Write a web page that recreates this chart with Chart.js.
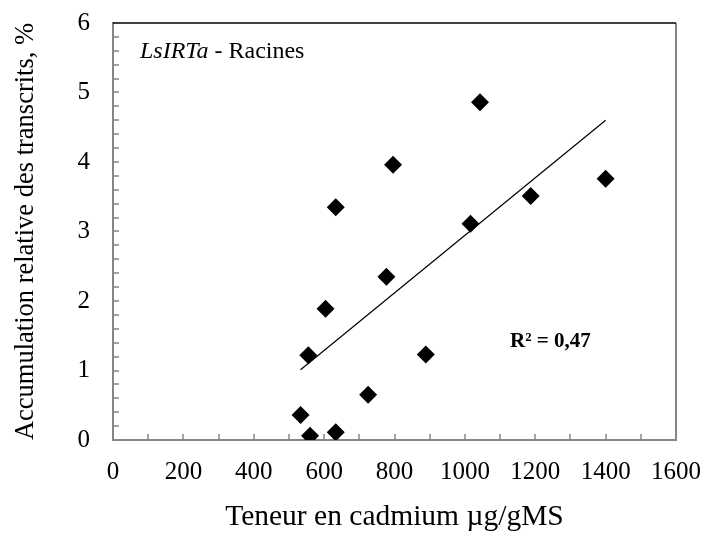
<!DOCTYPE html>
<html>
<head>
<meta charset="utf-8">
<script src="https://cdn.jsdelivr.net/npm/chart.js@4"></script>
<style>
  html, body { margin: 0; padding: 0; background: #fff; }
  canvas { display: block; }
</style>
</head>
<body>
<canvas id="chart" width="704" height="533"></canvas>
<script>
// values
const cadmium = [533, 560, 633, 555, 604, 725, 633, 777, 796, 889, 1016, 1043, 1187, 1400];
const transcrits = [0.36, 0.06, 0.11, 1.22, 1.89, 0.65, 3.35, 2.35, 3.96, 1.23, 3.11, 4.86, 3.51, 3.76];
const trendX = [533, 1400];
const trendY = [1.01, 4.60];
const xTickValues = [0, 200, 400, 600, 800, 1000, 1200, 1400, 1600];
const yTickValues = [0, 1, 2, 3, 4, 5, 6];

const axisGray = '#868686';
const serif = "'Liberation Serif', 'Times New Roman', serif";
Chart.defaults.font.family = serif;
Chart.defaults.color = '#000';

const points = cadmium.map((v, i) => ({ x: v, y: transcrits[i] }));
const trend = trendX.map((v, i) => ({ x: v, y: trendY[i] }));

// inner tick marks, right/top frame and the two text notes
const frameAndNotes = {
  id: 'frameAndNotes',
  beforeDatasetsDraw(chart) {
    const { ctx, chartArea: a, scales: { x, y } } = chart;
    ctx.save();
    ctx.strokeStyle = axisGray;
    ctx.lineWidth = 1.5;
    ctx.beginPath();
    for (let v = 100; v < x.max; v += 100) {
      const px = Math.round(x.getPixelForValue(v));
      ctx.moveTo(px, a.bottom);
      ctx.lineTo(px, a.bottom - 6);
    }
    for (let v = 0.2; v < y.max - 1e-6; v += 0.2) {
      const py = Math.round(y.getPixelForValue(v));
      ctx.moveTo(a.left, py);
      ctx.lineTo(a.left + 6, py);
    }
    ctx.stroke();

    ctx.lineWidth = 2;
    ctx.beginPath();
    ctx.moveTo(a.right, a.top);
    ctx.lineTo(a.right, a.bottom);
    ctx.stroke();

    ctx.strokeStyle = '#000';
    ctx.lineWidth = 1.3;
    ctx.beginPath();
    ctx.moveTo(a.left, a.top);
    ctx.lineTo(a.right, a.top);
    ctx.stroke();
    ctx.restore();
  },
  afterDraw(chart) {
    const { ctx, chartArea: a } = chart;
    ctx.save();
    ctx.fillStyle = '#000';
    ctx.textBaseline = 'alphabetic';
    ctx.textAlign = 'left';

    let tx = a.left + 27;
    const ty = a.top + 35;
    ctx.font = 'italic 24px ' + serif;
    ctx.fillText('LsIRTa', tx, ty);
    tx += ctx.measureText('LsIRTa').width;
    ctx.font = '24px ' + serif;
    ctx.fillText(' - Racines', tx, ty);

    ctx.font = 'bold 21px ' + serif;
    ctx.fillText('R² = 0,47', a.left + 397, a.top + 324);
    ctx.restore();
  }
};

new Chart(document.getElementById('chart'), {
  type: 'scatter',
  data: {
    datasets: [
      {
        label: 'LsIRTa',
        data: points,
        pointStyle: 'rectRot',
        pointRadius: 9,
        pointHoverRadius: 9,
        backgroundColor: '#000',
        borderColor: '#000',
        borderWidth: 0
      },
      {
        label: 'tendance',
        type: 'line',
        data: trend,
        borderColor: '#000',
        borderWidth: 1.2,
        pointRadius: 0,
        fill: false
      }
    ]
  },
  options: {
    responsive: false,
    animation: false,
    layout: { padding: { top: 23, right: 28, left: 0, bottom: 0 } },
    plugins: {
      legend: { display: false },
      tooltip: { enabled: false }
    },
    scales: {
      x: {
        type: 'linear',
        min: 0,
        max: 1600,
        afterBuildTicks: s => { s.ticks = xTickValues.map(v => ({ value: v })); },
        afterFit: s => { s.height = 93; s.paddingLeft = 0; s.paddingRight = 0; },
        grid: { display: false, drawTicks: false },
        border: { color: axisGray, width: 2 },
        ticks: { font: { size: 25 }, padding: 17, maxRotation: 0, color: '#000', callback: v => String(v) },
        title: {
          display: true,
          text: 'Teneur en cadmium µg/gMS',
          font: { size: 29.5, lineHeight: 1 },
          color: '#000',
          padding: { top: 0, bottom: 1 }
        }
      },
      y: {
        type: 'linear',
        min: 0,
        max: 6,
        afterBuildTicks: s => { s.ticks = yTickValues.map(v => ({ value: v })); },
        afterFit: s => { s.width = 113; s.paddingTop = 0; s.paddingBottom = 0; },
        grid: { display: false, drawTicks: false },
        border: { color: axisGray, width: 2 },
        ticks: { font: { size: 25 }, padding: 23, color: '#000', callback: v => String(v) },
        title: {
          display: true,
          text: 'Accumulation relative des transcrits, %',
          font: { size: 26.5 },
          color: '#000',
          padding: { top: 10, bottom: 0 }
        }
      }
    }
  },
  plugins: [frameAndNotes]
});
</script>
</body>
</html>
